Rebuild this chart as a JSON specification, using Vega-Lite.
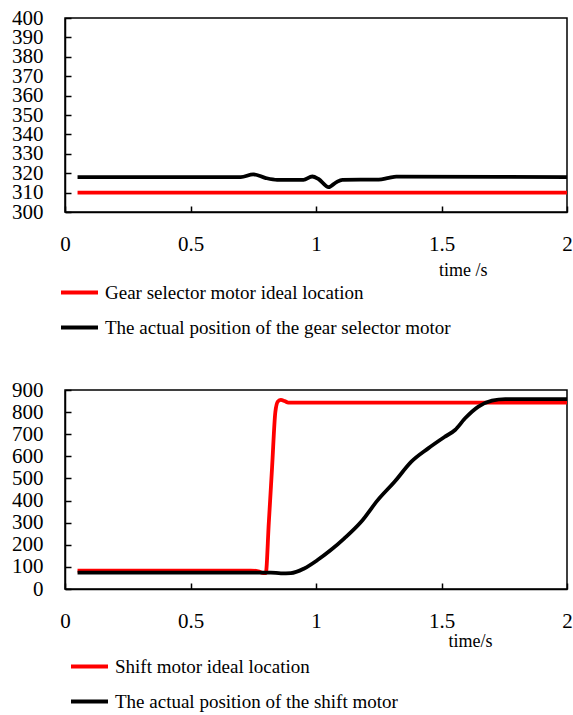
{
  "$schema": "https://vega.github.io/schema/vega-lite/v6.json",
  "background": "white",
  "padding": {"left": 10, "top": 6, "right": 0, "bottom": 0},
  "spacing": 39,
  "config": {
    "font": "Liberation Serif",
    "style": {"guide-label": {"font": "Liberation Serif"}, "guide-title": {"font": "Liberation Serif"}},
    "view": {"stroke": "black", "strokeWidth": 1.5},
    "axis": {
      "domainColor": "black", "domainWidth": 1.5,
      "tickColor": "black", "tickWidth": 1.5, "tickSize": -6,
      "labelColor": "black", "labelFont": "Liberation Serif", "labelFontSize": 21,
      "grid": false, "labelOverlap": false, "labelFlush": false,
      "titleFont": "Liberation Serif", "titleFontWeight": "normal", "titleColor": "black", "titleFontSize": 18
    },
    "legend": {
      "labelFont": "Liberation Serif", "labelFontSize": 19, "labelColor": "black",
      "symbolType": "stroke", "symbolStrokeWidth": 4, "symbolSize": 1369,
      "labelOffset": 5, "rowPadding": 4, "padding": 0, "labelLimit": 600
    }
  },
  "resolve": {"scale": {"color": "independent"}, "legend": {"color": "independent"}},
  "vconcat": [
    {
      "width": 502, "height": 194,
      "data": {"values": [
        {"t": 0.05, "v": 310, "s": "Gear selector motor ideal location"},
        {"t": 2.0, "v": 310, "s": "Gear selector motor ideal location"},
        {"t": 0.05, "v": 318, "s": "The actual position of the gear selector motor"},
        {"t": 0.70, "v": 318, "s": "The actual position of the gear selector motor"},
        {"t": 0.75, "v": 319.4, "s": "The actual position of the gear selector motor"},
        {"t": 0.80, "v": 317.5, "s": "The actual position of the gear selector motor"},
        {"t": 0.845, "v": 316.6, "s": "The actual position of the gear selector motor"},
        {"t": 0.95, "v": 316.6, "s": "The actual position of the gear selector motor"},
        {"t": 0.985, "v": 318.3, "s": "The actual position of the gear selector motor"},
        {"t": 1.01, "v": 317, "s": "The actual position of the gear selector motor"},
        {"t": 1.05, "v": 312.8, "s": "The actual position of the gear selector motor"},
        {"t": 1.08, "v": 315.3, "s": "The actual position of the gear selector motor"},
        {"t": 1.105, "v": 316.6, "s": "The actual position of the gear selector motor"},
        {"t": 1.25, "v": 316.7, "s": "The actual position of the gear selector motor"},
        {"t": 1.29, "v": 317.6, "s": "The actual position of the gear selector motor"},
        {"t": 1.32, "v": 318.2, "s": "The actual position of the gear selector motor"},
        {"t": 2.0, "v": 318, "s": "The actual position of the gear selector motor"}
      ]},
      "mark": {"type": "line", "interpolate": "monotone", "strokeWidth": 3.8},
      "encoding": {
        "x": {"field": "t", "type": "quantitative",
          "scale": {"domain": [0, 2], "nice": false},
          "axis": {"values": [0, 0.5, 1, 1.5, 2], "labelExpr": "'' + datum.value", "labelPadding": 27, "labelFont": "Liberation Serif",
            "title": "time /s", "titleX": 422, "titleY": 63, "titleAlign": "right", "titleBaseline": "alphabetic", "titleAnchor": null}},
        "y": {"field": "v", "type": "quantitative",
          "scale": {"domain": [300, 400], "nice": false, "zero": false},
          "axis": {"values": [300, 310, 320, 330, 340, 350, 360, 370, 380, 390, 400], "labelPadding": 28, "labelFont": "Liberation Serif", "title": null}},
        "color": {"field": "s", "type": "nominal",
          "scale": {"domain": ["Gear selector motor ideal location", "The actual position of the gear selector motor"], "range": ["#ff0000", "#000000"]},
          "legend": {"title": null, "orient": "none", "legendX": -6, "legendY": 254, "direction": "vertical"}}
      }
    },
    {
      "width": 502, "height": 199,
      "data": {"values": [
        {"t": 0.05, "v": 83, "s": "Shift motor ideal location"},
        {"t": 0.74, "v": 83, "s": "Shift motor ideal location"},
        {"t": 0.77, "v": 80, "s": "Shift motor ideal location"},
        {"t": 0.79, "v": 72, "s": "Shift motor ideal location"},
        {"t": 0.80, "v": 72, "s": "Shift motor ideal location"},
        {"t": 0.812, "v": 300, "s": "Shift motor ideal location"},
        {"t": 0.825, "v": 550, "s": "Shift motor ideal location"},
        {"t": 0.838, "v": 800, "s": "Shift motor ideal location"},
        {"t": 0.848, "v": 848, "s": "Shift motor ideal location"},
        {"t": 0.86, "v": 855, "s": "Shift motor ideal location"},
        {"t": 0.875, "v": 850, "s": "Shift motor ideal location"},
        {"t": 0.89, "v": 843, "s": "Shift motor ideal location"},
        {"t": 2.0, "v": 843, "s": "Shift motor ideal location"},
        {"t": 0.05, "v": 74, "s": "The actual position of the shift motor"},
        {"t": 0.82, "v": 74, "s": "The actual position of the shift motor"},
        {"t": 0.86, "v": 71, "s": "The actual position of the shift motor"},
        {"t": 0.90, "v": 72, "s": "The actual position of the shift motor"},
        {"t": 0.953, "v": 93, "s": "The actual position of the shift motor"},
        {"t": 1.006, "v": 131, "s": "The actual position of the shift motor"},
        {"t": 1.059, "v": 176, "s": "The actual position of the shift motor"},
        {"t": 1.113, "v": 229, "s": "The actual position of the shift motor"},
        {"t": 1.18, "v": 304, "s": "The actual position of the shift motor"},
        {"t": 1.246, "v": 402, "s": "The actual position of the shift motor"},
        {"t": 1.313, "v": 485, "s": "The actual position of the shift motor"},
        {"t": 1.38, "v": 576, "s": "The actual position of the shift motor"},
        {"t": 1.447, "v": 636, "s": "The actual position of the shift motor"},
        {"t": 1.514, "v": 689, "s": "The actual position of the shift motor"},
        {"t": 1.554, "v": 719, "s": "The actual position of the shift motor"},
        {"t": 1.594, "v": 772, "s": "The actual position of the shift motor"},
        {"t": 1.647, "v": 825, "s": "The actual position of the shift motor"},
        {"t": 1.701, "v": 852, "s": "The actual position of the shift motor"},
        {"t": 1.754, "v": 859, "s": "The actual position of the shift motor"},
        {"t": 2.0, "v": 859, "s": "The actual position of the shift motor"}
      ]},
      "mark": {"type": "line", "interpolate": "monotone", "strokeWidth": 3.8},
      "encoding": {
        "x": {"field": "t", "type": "quantitative",
          "scale": {"domain": [0, 2], "nice": false},
          "axis": {"values": [0, 0.5, 1, 1.5, 2], "labelExpr": "'' + datum.value", "labelPadding": 27, "labelFont": "Liberation Serif",
            "title": "time/s", "titleX": 427, "titleY": 57, "titleAlign": "right", "titleBaseline": "alphabetic", "titleAnchor": null}},
        "y": {"field": "v", "type": "quantitative",
          "scale": {"domain": [0, 900], "nice": false},
          "axis": {"values": [0, 100, 200, 300, 400, 500, 600, 700, 800, 900], "labelPadding": 28, "labelFont": "Liberation Serif", "title": null}},
        "color": {"field": "s", "type": "nominal",
          "scale": {"domain": ["Shift motor ideal location", "The actual position of the shift motor"], "range": ["#ff0000", "#000000"]},
          "legend": {"title": null, "orient": "none", "legendX": 4, "legendY": 256, "direction": "vertical"}}
      }
    }
  ]
}
